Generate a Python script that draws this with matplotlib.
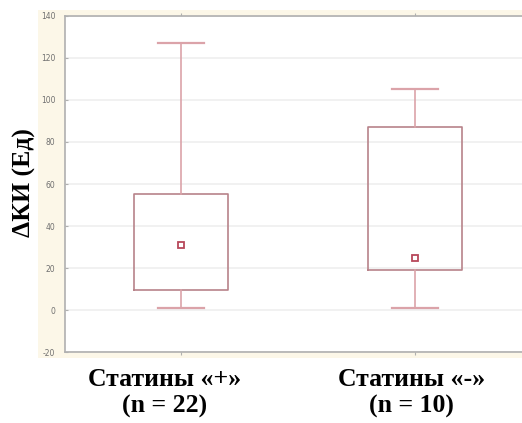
import matplotlib.pyplot as plt
from matplotlib.patches import Rectangle

groups = ['Статины «+»\n(n = 22)', 'Статины «-»\n(n = 10)']
whislo = [1, 1]
q1 = [9.5, 19]
med = [31, 25]
q3 = [55, 87]
whishi = [127, 105]
yticks = [-20, 0, 20, 40, 60, 80, 100, 120, 140]

BOX = '#b8838a'
WHISK = '#dba3a9'
MED = '#b8485a'
SPINE = '#b0b0b0'

W, H = 522, 423
fig = plt.figure(figsize=(W / 100, H / 100), dpi=100)

# beige frame around the plotting area
fig.patches.append(Rectangle((38 / W, 1 - 358 / H), (W - 38) / W, (358 - 10) / H,
                             transform=fig.transFigure, facecolor='#fcf7e8',
                             edgecolor='none', zorder=-5))

ax = fig.add_axes([65 / W, 1 - 352 / H, (W - 65) / W, (352 - 16) / H])
ax.set_facecolor('white')

stats = [dict(whislo=whislo[i], q1=q1[i], med=med[i], q3=q3[i], whishi=whishi[i],
              fliers=[]) for i in range(len(groups))]
pos = [1, 2]
ax.bxp(stats, positions=pos, widths=0.40, capwidths=0.2, showfliers=False,
       boxprops=dict(color=BOX, linewidth=1.2),
       whiskerprops=dict(color=WHISK, linewidth=1.2),
       capprops=dict(color=WHISK, linewidth=1.6),
       medianprops=dict(linewidth=0))
ax.plot(pos, med, 's', ms=4.5, mfc='white', mec=MED, mew=1.3, zorder=5)

ax.set_xlim(1 - 116 / 234, 2 + 107 / 234)
ax.set_ylim(-20, 140)
ax.set_yticks(yticks)
ax.set_yticklabels([str(v) for v in yticks], fontsize=5.5, color='#707070')
ax.grid(axis='y', color='#efefef', linewidth=1.2)
ax.set_axisbelow(True)
ax.tick_params(axis='y', direction='in', length=2, color=SPINE, pad=7)
ax.tick_params(axis='x', direction='out', length=2, color=SPINE, top=True,
               labelbottom=False)
for s in ['left', 'bottom', 'top']:
    ax.spines[s].set_color(SPINE)
    ax.spines[s].set_linewidth(1.2)
ax.spines['right'].set_visible(False)

# category captions sit a little left of the box centres
shifts = [-11.5, -2.5]
for x, lbl, dx in zip(pos, groups, shifts):
    ax.annotate(lbl, xy=(x, 0), xycoords=('data', 'axes fraction'),
                xytext=(dx, -11.5), textcoords='offset points', ha='center', va='top',
                fontsize=18.5, fontweight='bold', family='Liberation Serif',
                linespacing=1.2)

fig.text(24 / W, 1 - 183 / H, 'ΔКИ (Ед)', rotation=90, ha='center', va='center',
         fontsize=18.5, fontweight='bold', family='Liberation Serif')

fig.savefig('out.png', dpi=100)
